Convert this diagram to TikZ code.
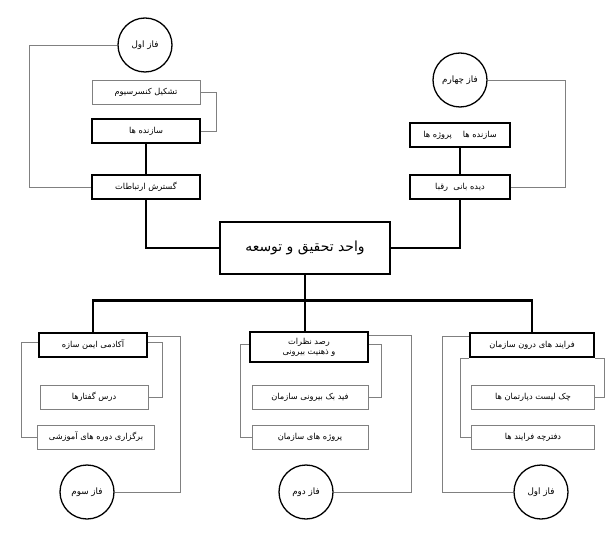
\documentclass[tikz,border=0pt]{standalone}
\usepackage{fontspec}
\newfontfamily\farsi[Script=Arabic]{DejaVu Sans}
\TeXXeTstate=1
\newcommand{\fa}[1]{{\farsi\beginR #1\endR}}
\usetikzlibrary{positioning}
\tikzset{
  thk/.style={draw, line width=2.8bp, minimum width=108bp, minimum height=24bp, font=\fontsize{8.3}{10}\selectfont, inner sep=1bp},
  thn/.style={draw, gray, text=black, line width=.6bp, minimum width=108bp, minimum height=24bp, font=\fontsize{8.3}{10}\selectfont, inner sep=1bp},
  faz/.style={draw, circle, line width=1.3bp, minimum size=54bp, font=\fontsize{8.8}{10}\selectfont, inner sep=0pt},
  bar/.style={line width=2.8bp},
  wire/.style={gray, line width=.6bp}
}
\begin{document}
\begin{tikzpicture}[x=1bp,y=-1bp]
  \useasboundingbox (0,0) rectangle (606,538);
  % top left
  \node[faz] (f1) at (145,45) {\fa{فاز اول}};
  \node[thn] (tash) at (146,92) {\fa{تشکیل کنسرسیوم}};
  \node[thk] (saz) at (146,131) {\fa{سازنده ها}};
  \node[thk] (gost) at (146,187) {\fa{گسترش ارتباطات}};
  % top right
  \node[faz] (f4) at (460,80) {\fa{فاز چهارم}};
  \node[thk, minimum width=100bp] (sazp) at (460,135) {\fa{سازنده ها \quad پروژه ها}};
  \node[thk, minimum width=100bp] (dide) at (460,187) {\fa{دیده بانی \ رقبا}};
  % main
  \node[thk, minimum width=170bp, minimum height=52bp, font=\fontsize{14}{16}\selectfont] (vahed) at (305,248) {\fa{واحد تحقیق و توسعه}};
  % bottom
  \node[thk] (akad) at (93,345) {\fa{آکادمی ایمن سازه}};
  \node[thk, minimum width=118bp, minimum height=30bp, align=center] (rasad) at (309,347) {\fa{رصد نظرات}\\\fa{و ذهنیت بیرونی}};
  \node[thk, minimum width=124bp] (farayand) at (532,345) {\fa{فرایند های درون سازمان}};
  \node[thn] (dars) at (94,397) {\fa{درس گفتارها}};
  \node[thn, minimum width=117bp] (bargozari) at (96,437) {\fa{برگزاری دوره های آموزشی}};
  \node[thn, minimum width=116bp] (feed) at (310,397) {\fa{فید بک بیرونی سازمان}};
  \node[thn, minimum width=116bp] (proje) at (310,437) {\fa{پروژه های سازمان}};
  \node[thn, minimum width=123bp] (chek) at (533,397) {\fa{چک لیست دپارتمان ها}};
  \node[thn, minimum width=123bp] (daftar) at (533,437) {\fa{دفترچه فرایند ها}};
  \node[faz] (f3) at (87,492) {\fa{فاز سوم}};
  \node[faz] (f2) at (306,492) {\fa{فاز دوم}};
  \node[faz] (f1b) at (541,492) {\fa{فاز اول}};
  % thick connectors
  \draw[bar] (saz) -- (gost);
  \draw[bar] (sazp) -- (dide);
  \draw[bar] (gost.south) |- (vahed.west);
  \draw[bar] (dide.south) |- (vahed.east);
  \draw[bar] (vahed.south) -- ++(0,25) coordinate (bus);
  \draw[bar] (akad.north) |- (bus) -| (farayand.north);
  \draw[bar] (bus) -- (bus |- rasad.north);
  % thin connectors, top
  \draw[wire] (f1.west) -- ++(-88,0) |- (gost.west);
  \draw[wire] (tash.east) -- ++(16,0) |- (saz.east);
  \draw[wire] (f4.east) -- ++(78,0) |- (dide.east);
  % thin connectors, bottom
  \draw[wire] ([yshift=-5bp]akad.north east) -- ++(32,0) |- (f3.east);
  \draw[wire] ([yshift=3bp]akad.east) -- ++(14,0) |- (dars.east);
  \draw[wire] ([yshift=3bp]akad.west) -- ++(-16,0) |- (bargozari.west);
  \draw[wire] ([yshift=-5bp]rasad.north east) -- ++(42,0) |- (f2.east);
  \draw[wire] ([yshift=3bp]rasad.east) -- ++(12,0) |- (feed.east);
  \draw[wire] ([yshift=3bp]rasad.west) -- ++(-8,0) |- (proje.west);
  \draw[wire] ([yshift=-5bp]farayand.north west) -- ++(-26,0) |- (f1b.west);
  \draw[wire] (farayand.south east) -- ++(9,0) |- (chek.east);
  \draw[wire] (farayand.south west) -- ++(-8,0) |- (daftar.west);
\end{tikzpicture}
\end{document}
